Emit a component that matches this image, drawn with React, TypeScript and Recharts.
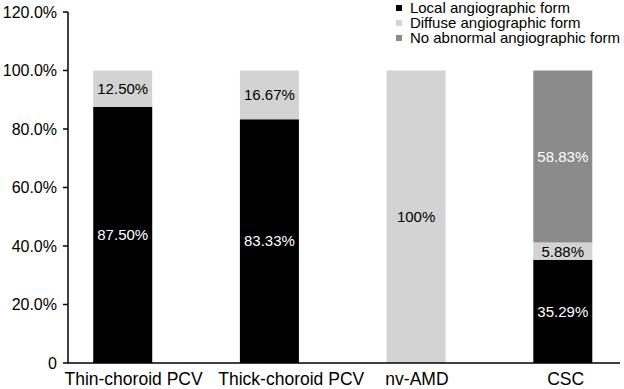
import React from 'react';
import { BarChart, Bar, XAxis, YAxis, LabelList } from 'recharts';

// categories and stacked percentages (bottom -> top)
const categories = ['Thin-choroid PCV', 'Thick-choroid PCV', 'nv-AMD', 'CSC'];
const localForm = [87.5, 83.33, 0, 35.29];
const diffuseForm = [12.5, 16.67, 100, 5.88];
const noAbnormalForm = [0, 0, 0, 58.83];
const yTicks = [0, 20, 40, 60, 80, 100, 120];

const seriesNames = ['Local angiographic form', 'Diffuse angiographic form', 'No abnormal angiographic form'];
const colors = ['#000000', '#d3d3d3', '#8b8b8b'];

const data = categories.map((name, i) => ({
    idx: i,
    name,
    local: localForm[i],
    diffuse: diffuseForm[i],
    none: noAbnormalForm[i],
}));

const font = '"Liberation Sans", Arial, sans-serif';
// the original's category labels sit a little right of the bar centres
const tickNudge = [11, 22, 1, 3];

const fmtLabel = (v: any) => {
    if (!v) return '';
    return v === 100 ? '100%' : `${Number(v).toFixed(2)}%`;
};

const CategoryTick = (props: any) => {
    const { x, y, payload } = props;
    const i = payload.value;
    return (
        <text x={x + (tickNudge[i] || 0)} y={y} dy="0.71em" textAnchor="middle" fill="#000" fontSize={17.5} fontFamily={font}>
            {categories[i]}
        </text>
    );
};

// legend drawn as an overlay so it doesn't eat plot width
const LegendBox = () => (
    <div style={{ position: 'absolute', top: 0, right: 4, fontFamily: font, fontSize: 15, lineHeight: '15px', color: '#000' }}>
        {seriesNames.map((s, i) => (
            <div key={s} style={{ display: 'flex', alignItems: 'center', whiteSpace: 'nowrap' }}>
                <span style={{ display: 'inline-block', width: 6, height: 6, background: colors[i], marginRight: 8 }} />
                <span>{s}</span>
            </div>
        ))}
    </div>
);

const App = () => {
    return (
        <div style={{ position: 'absolute', left: 0, top: 0, width: 624, height: 389, background: '#fff' }}>
            <BarChart
                width={624}
                height={389}
                data={data}
                margin={{ top: 12, right: 4, bottom: 0, left: 0 }}
                barSize={59}
            >
                <XAxis
                    dataKey="idx"
                    type="number"
                    domain={[-0.372, 3.391]}
                    ticks={[0, 1, 2, 3]}
                    allowDataOverflow
                    height={26}
                    tickLine={false}
                    tickMargin={4}
                    axisLine={{ stroke: '#000', strokeWidth: 1.5 }}
                    tick={<CategoryTick />}
                    interval={0}
                />
                <YAxis
                    width={68}
                    domain={[0, 120]}
                    ticks={yTicks}
                    tickSize={5}
                    tickMargin={6}
                    tickFormatter={(v: number) => (v === 0 ? '0' : `${v.toFixed(1)}%`)}
                    axisLine={{ stroke: '#000', strokeWidth: 1.5 }}
                    tickLine={{ stroke: '#000', strokeWidth: 1.5 }}
                    tick={{ fill: '#000', fontSize: 16, fontFamily: font }}
                />
                <Bar dataKey="local" stackId="a" fill={colors[0]} isAnimationActive={false}>
                    <LabelList dataKey="local" position="center" formatter={fmtLabel} fill="#fff" fontSize={15} fontFamily={font} />
                </Bar>
                <Bar dataKey="diffuse" stackId="a" fill={colors[1]} isAnimationActive={false}>
                    <LabelList dataKey="diffuse" position="center" formatter={fmtLabel} fill="#000" fontSize={15} fontFamily={font} />
                </Bar>
                <Bar dataKey="none" stackId="a" fill={colors[2]} isAnimationActive={false}>
                    <LabelList dataKey="none" position="center" formatter={fmtLabel} fill="#fff" fontSize={15} fontFamily={font} />
                </Bar>
            </BarChart>
            <LegendBox />
        </div>
    );
};

export default App;
